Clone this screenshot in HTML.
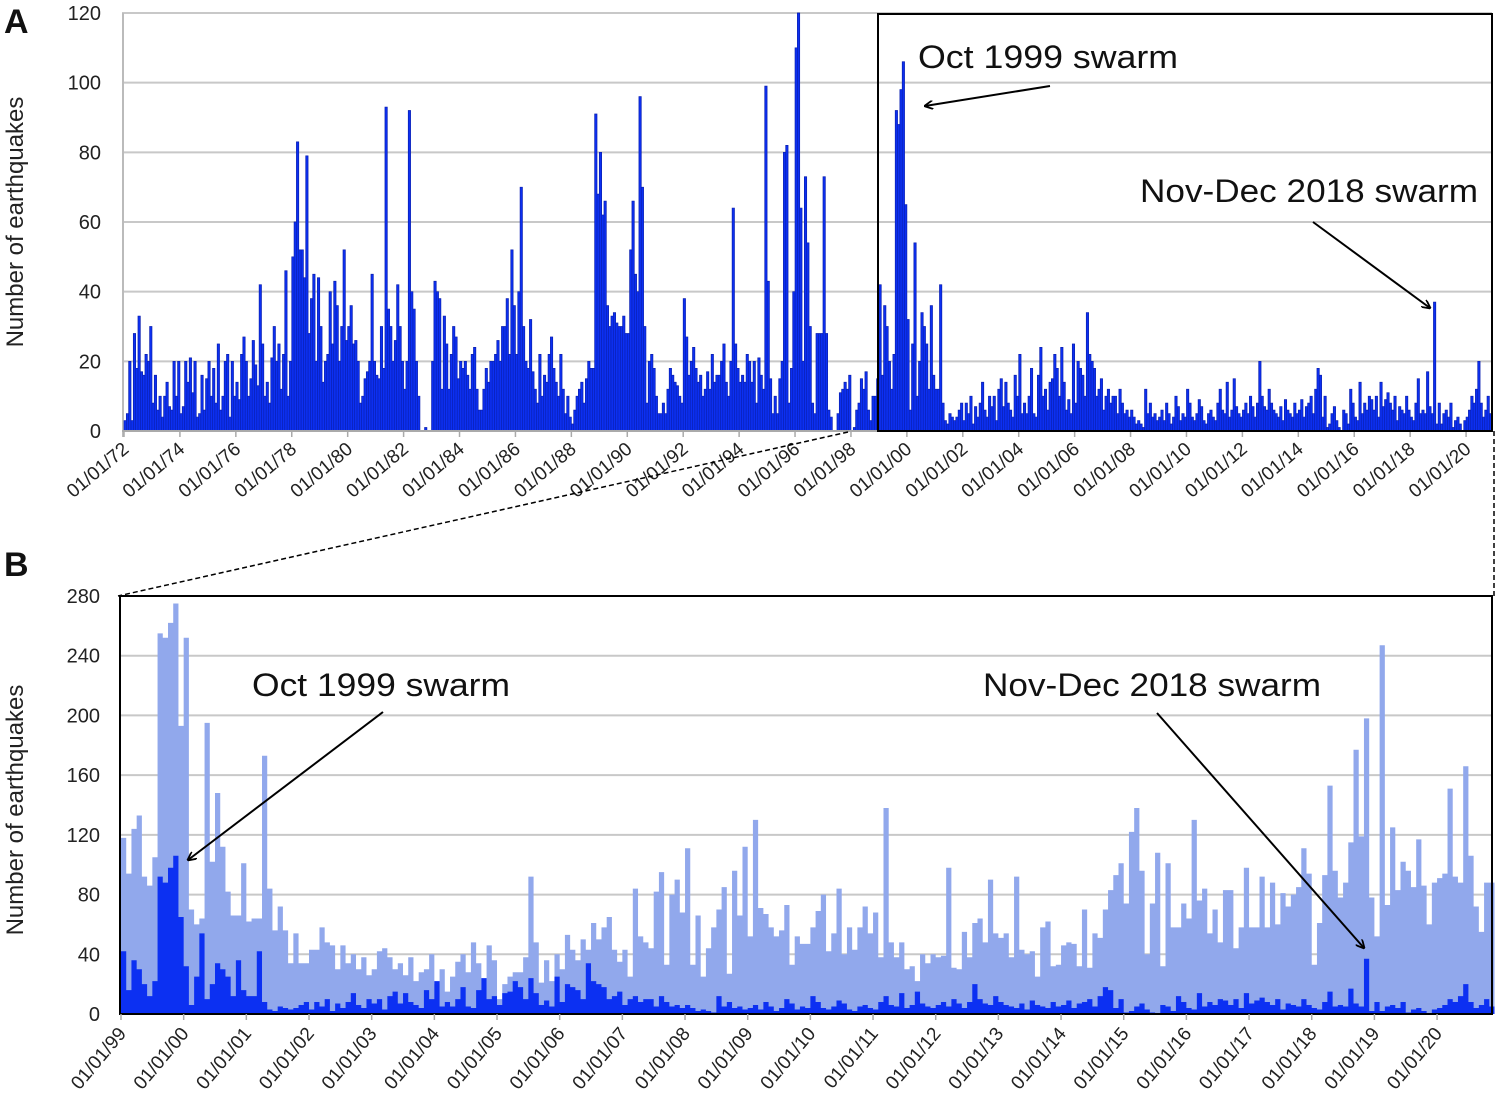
<!DOCTYPE html>
<html><head><meta charset="utf-8"><style>
html,body{margin:0;padding:0;background:#fff;}
svg{display:block;font-family:"Liberation Sans",sans-serif;}
</style></head><body>
<svg id="chart" width="1500" height="1118" viewBox="0 0 1500 1118">
<defs>
<marker id="arr" viewBox="0 0 10 10" refX="9" refY="5" markerWidth="9" markerHeight="9" orient="auto-start-reverse" markerUnits="userSpaceOnUse"><path d="M0,0 L10,5 L0,10" fill="none" stroke="#000" stroke-width="2"/></marker>
</defs>
<g id="gA"></g>
<g id="gB"></g>
</svg>
<script>
// Panel A monthly counts, Jan 1972 - Nov 2020
const aYears = ["72","74","76","78","80","82","84","86","88","90","92","94","96","98","00","02","04","06","08","10","12","14","16","18","20"];
const aTicks = [0,20,40,60,80,100,120];
const aCounts = [
3,5,20,3,28,18,33,17,16,22,20,30,
8,16,6,10,4,10,14,7,6,20,10,20,
5,7,20,14,21,11,20,4,5,16,6,15,
20,10,18,8,25,6,10,20,22,4,20,10,
14,9,22,27,20,10,15,26,19,13,42,25,
10,14,8,21,30,20,25,12,22,46,10,20,
50,60,83,52,52,44,79,28,38,45,20,44,
30,14,20,22,40,25,43,36,20,30,52,26,
30,36,25,26,20,8,10,15,17,20,45,20,
16,15,30,18,93,35,30,20,26,42,30,20,
12,20,92,40,35,20,10,0,0,1,0,0,
20,43,40,38,12,33,25,12,22,30,27,15,
20,18,20,16,12,22,24,12,6,6,12,18,
14,20,20,22,26,20,30,30,38,22,52,36,
22,40,70,30,20,18,32,17,12,8,22,10,
16,14,22,27,18,14,10,22,12,5,10,4,
2,6,10,12,14,8,15,20,18,18,91,68,
80,62,66,36,30,33,34,31,30,30,33,28,
28,52,66,45,40,96,70,30,8,20,22,18,
10,5,5,8,5,12,18,16,14,13,10,8,
38,27,16,20,24,18,14,16,10,12,17,12,
22,14,16,16,20,25,14,10,20,64,25,18,
14,16,14,22,20,14,20,8,21,16,12,99,
43,15,5,10,5,15,20,80,82,8,18,40,
110,120,64,20,73,54,30,8,5,28,28,28,
73,28,6,4,0,0,5,11,12,14,12,16,
0,1,6,8,15,12,17,6,3,10,10,15,
42,16,36,30,20,12,22,92,88,98,106,65,
32,6,25,54,10,20,34,30,25,12,36,16,
12,12,42,8,3,2,5,4,3,4,6,8,
3,8,5,10,2,7,4,8,14,6,4,10,
7,10,3,12,15,7,14,8,6,4,16,10,
22,5,8,5,10,18,5,4,16,24,10,12,
6,14,15,22,18,10,24,14,6,9,5,25,
8,20,18,16,10,34,22,20,18,10,12,15,
6,10,12,8,10,10,5,12,8,5,6,4,
6,4,2,3,2,1,12,5,8,4,5,3,
4,6,3,8,5,2,4,10,7,3,5,4,
12,8,4,3,5,9,7,3,2,5,6,4,
3,8,12,6,5,14,4,6,15,7,5,4,
6,8,5,10,7,4,8,20,10,7,6,12,
8,6,5,4,7,3,9,6,5,4,8,5,
6,9,4,7,8,10,5,12,18,16,4,10,
1,2,5,7,3,1,0,6,5,2,12,8,
4,3,14,5,8,6,10,9,6,10,4,14,
7,9,11,8,6,10,3,7,6,5,10,6,
4,3,8,15,5,6,5,17,7,5,37,2,
8,2,5,6,4,8,1,3,4,2,0,3,
4,6,10,8,12,20,8,4,6,10,5
];
// Panel B: light (background) series, Jan 1999 - Nov 2020
const bYears = ["99","00","01","02","03","04","05","06","07","08","09","10","11","12","13","14","15","16","17","18","19","20"];
const bTicks = [0,40,80,120,160,200,240,280];
const bLight = [
118,94,124,133,92,86,105,255,252,262,275,193,
252,70,60,64,195,102,148,112,82,66,66,101,
62,64,64,173,84,56,72,56,34,54,34,34,
43,43,58,48,46,30,46,34,40,30,38,26,
30,42,44,38,30,34,26,38,22,28,30,40,
20,30,15,25,35,40,28,48,34,8,46,36,
10,20,25,28,28,38,92,48,21,36,22,40,
30,53,43,36,50,43,61,50,58,65,43,35,
43,25,84,52,48,44,82,95,33,80,90,68,
111,33,66,25,44,58,70,85,27,96,66,112,
52,130,71,67,58,52,56,73,33,52,47,47,
58,69,80,42,54,84,40,58,43,58,72,54,
68,38,138,48,38,48,30,32,22,40,34,40,
38,39,98,31,30,55,38,61,64,48,90,54,
51,54,38,92,43,40,42,25,58,62,32,33,
46,48,47,32,70,31,54,51,70,83,93,101,
74,122,138,96,40,74,108,32,101,58,58,74,
64,130,76,84,54,70,48,83,83,44,58,98,
58,58,92,58,88,60,81,72,80,85,111,94,
33,61,93,153,96,78,88,115,177,119,198,78,
52,247,73,125,83,102,96,85,117,86,60,88,
91,94,151,92,88,166,106,72,55,88,88
];
// Panel B dark series = same monthly counts from Jan 1999
const bDark = aCounts.slice(27*12);

const NS = "http://www.w3.org/2000/svg";
function mk(parent, tag, attrs){ const e=document.createElementNS(NS,tag); for(const k in attrs) e.setAttribute(k,attrs[k]); parent.appendChild(e); return e; }

// ---------- Panel A ----------
const gA = document.getElementById('gA');
const A = {x0:124, x1:1492, y0:431, yTop:13, vmax:120, pxYear:27.96};
const ayS = v => A.y0 - v*(A.y0-A.yTop)/A.vmax;
const axS = m => A.x0 + m*A.pxYear/12;
aTicks.forEach(t=>{
  const l=mk(gA,'line',{x1:A.x0-2,x2:A.x1,y1:ayS(t),y2:ayS(t),stroke:'#c8c8c8','stroke-width':2});
   
  const tx=mk(gA,'text',{x:101,y:ayS(t)+7,'text-anchor':'end','font-size':20,fill:'#222'}); tx.textContent=t;
   
});
mk(gA,'line',{x1:A.x0-1,x2:A.x0-1,y1:A.yTop,y2:A.y0+6,stroke:'#bbb','stroke-width':2});
let dA='';
aCounts.forEach((v,i)=>{ const x=axS(i), w=A.pxYear/12; if(v>0) dA+=`M${x.toFixed(2)},${A.y0}V${ayS(v).toFixed(2)}H${(x+w).toFixed(2)}V${A.y0}Z`; });
const pA=mk(gA,'path',{d:dA,fill:'#0c30f2',stroke:'#0a1fb0','stroke-width':0.7});
 
mk(gA,'line',{x1:A.x0-2,x2:A.x1,y1:A.y0,y2:A.y0,stroke:'#aaa','stroke-width':2});
aYears.forEach((y,i)=>{
  const x=axS(i*24);
  mk(gA,'line',{x1:x,x2:x,y1:A.y0,y2:A.y0+6,stroke:'#aaa','stroke-width':1.5});
  const t=mk(gA,'text',{x:x+6,y:A.y0+20,'text-anchor':'end','font-size':19,fill:'#222',transform:`rotate(-40 ${x+6} ${A.y0+20})`});
  t.textContent='01/01/'+y;
   
});
const yta=mk(gA,'text',{x:0,y:0,'text-anchor':'middle','font-size':24,fill:'#222',transform:'translate(23,222) rotate(-90)'}); yta.textContent='Number of earthquakes';
 
const la=mk(gA,'text',{x:4,y:33,'font-size':34,'font-weight':'bold',fill:'#111'}); la.textContent='A';
 
const boxA=mk(gA,'rect',{x:878,y:14,width:614,height:417,fill:'none',stroke:'#000','stroke-width':2});
 
const t1=mk(gA,'text',{x:918,y:68,'font-size':32,fill:'#111',textLength:260,lengthAdjust:'spacingAndGlyphs'}); t1.textContent='Oct 1999 swarm';
 
mk(gA,'line',{x1:1050,y1:86,x2:925,y2:106,stroke:'#000','stroke-width':2,'marker-end':'url(#arr)'});
const t2=mk(gA,'text',{x:1140,y:202,'font-size':32,fill:'#111',textLength:338,lengthAdjust:'spacingAndGlyphs'}); t2.textContent='Nov-Dec 2018 swarm';
 
mk(gA,'line',{x1:1313,y1:222,x2:1430,y2:308,stroke:'#000','stroke-width':2,'marker-end':'url(#arr)'});
mk(gA,'line',{x1:848,y1:432,x2:118,y2:596,stroke:'#000','stroke-width':1.5,'stroke-dasharray':'5,3'});
mk(gA,'line',{x1:1494,y1:431,x2:1494,y2:596,stroke:'#000','stroke-width':1.5,'stroke-dasharray':'5,3'});

// ---------- Panel B ----------
const gB = document.getElementById('gB');
const B = {x0:121, x1:1492, y0:1014, yTop:596, vmax:280, pxYear:62.67};
const byS = v => B.y0 - v*(B.y0-B.yTop)/B.vmax;
const bxS = m => B.x0 + m*B.pxYear/12;
bTicks.forEach(t=>{
  const l=mk(gB,'line',{x1:B.x0-2,x2:B.x1,y1:byS(t),y2:byS(t),stroke:'#c8c8c8','stroke-width':2});
   
  const tx=mk(gB,'text',{x:100,y:byS(t)+7,'text-anchor':'end','font-size':20,fill:'#222'}); tx.textContent=t;
   
});
let dL='';
bLight.forEach((v,i)=>{ const x=bxS(i), w=B.pxYear/12; dL+=`M${x.toFixed(2)},${B.y0}V${byS(v).toFixed(2)}H${(x+w).toFixed(2)}V${B.y0}Z`; });
const pL=mk(gB,'path',{d:dL,fill:'#91a8ec'});
 
let dD='';
bDark.forEach((v,i)=>{ const x=bxS(i), w=B.pxYear/12; if(v>0) dD+=`M${x.toFixed(2)},${B.y0}V${byS(v).toFixed(2)}H${(x+w).toFixed(2)}V${B.y0}Z`; });
const pD=mk(gB,'path',{d:dD,fill:'#0c30f2'});
 
const boxB=mk(gB,'rect',{x:120,y:596,width:1372,height:418,fill:'none',stroke:'#000','stroke-width':2});
 
bYears.forEach((y,i)=>{
  const x=bxS(i*12);
  mk(gB,'line',{x1:x,x2:x,y1:B.y0,y2:B.y0+6,stroke:'#aaa','stroke-width':1.5});
  const t=mk(gB,'text',{x:x+6,y:B.y0+20,'text-anchor':'end','font-size':19,fill:'#222',transform:`rotate(-50 ${x+6} ${B.y0+20})`});
  t.textContent='01/01/'+y;
   
});
const ytb=mk(gB,'text',{x:0,y:0,'text-anchor':'middle','font-size':24,fill:'#222',transform:'translate(23,810) rotate(-90)'}); ytb.textContent='Number of earthquakes';
 
const lb=mk(gB,'text',{x:4,y:576,'font-size':34,'font-weight':'bold',fill:'#111'}); lb.textContent='B';
 
const t3=mk(gB,'text',{x:252,y:696,'font-size':32,fill:'#111',textLength:258,lengthAdjust:'spacingAndGlyphs'}); t3.textContent='Oct 1999 swarm';
 
mk(gB,'line',{x1:383,y1:712,x2:188,y2:860,stroke:'#000','stroke-width':2,'marker-end':'url(#arr)'});
const t4=mk(gB,'text',{x:983,y:696,'font-size':32,fill:'#111',textLength:338,lengthAdjust:'spacingAndGlyphs'}); t4.textContent='Nov-Dec 2018 swarm';
 
mk(gB,'line',{x1:1157,y1:713,x2:1364,y2:948,stroke:'#000','stroke-width':2,'marker-end':'url(#arr)'});
</script>
</body></html>
